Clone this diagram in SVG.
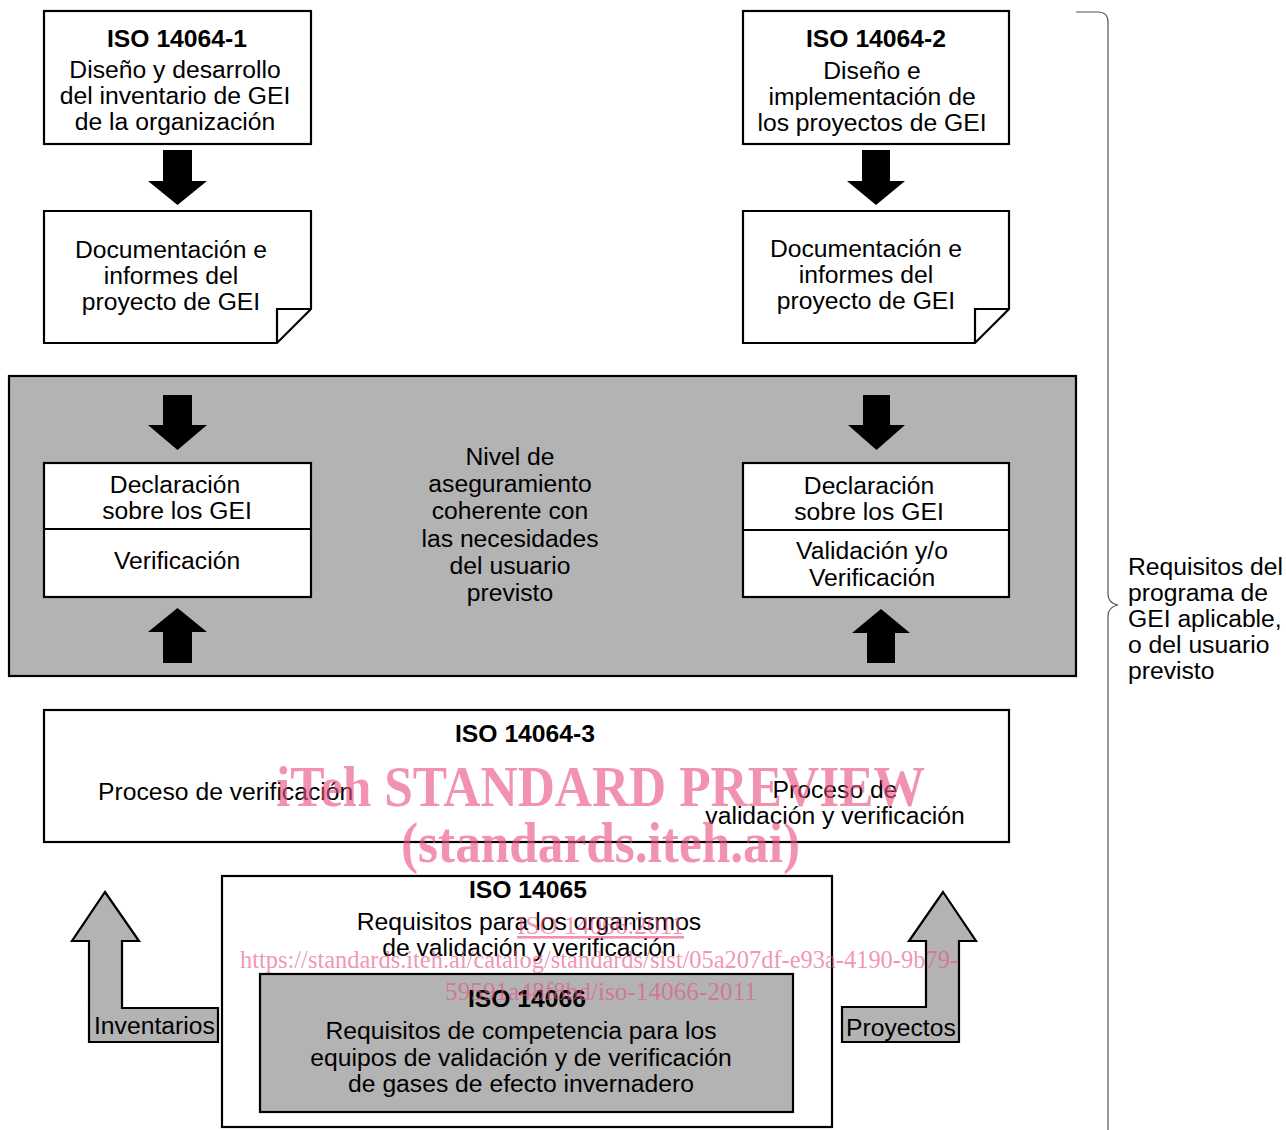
<svg xmlns="http://www.w3.org/2000/svg" width="1286" height="1130" viewBox="0 0 1286 1130">
<style>
  .box { fill: #ffffff; stroke: #000000; stroke-width: 2.2; }
  .grey { fill: #b3b3b3; stroke: #000000; stroke-width: 2.2; }
  .ln { fill: none; stroke: #000000; stroke-width: 2.2; }
  .t { font-family: "Liberation Sans", Arial, sans-serif; font-size: 24.7px; fill: #000000; }
  .c { text-anchor: middle; }
  .b { font-weight: bold; }
  .arr { fill: #000000; stroke: none; }
  .garr { fill: #b3b3b3; stroke: #000000; stroke-width: 2.2; }
  .brace { fill: none; stroke: #555555; stroke-width: 1.2; }
  .wm { font-family: "Liberation Serif", "Times New Roman", serif; fill: #e8507f; fill-opacity: 0.62; }
</style>
<rect width="1286" height="1130" fill="#ffffff"/>

<g id="assurance-area">
  <rect class="grey" x="9" y="376" width="1067" height="300"/>
  <text class="t c" x="510" y="465">Nivel de</text>
  <text class="t c" x="510" y="492">aseguramiento</text>
  <text class="t c" x="510" y="519">coherente con</text>
  <text class="t c" x="510" y="547">las necesidades</text>
  <text class="t c" x="510" y="574">del usuario</text>
  <text class="t c" x="510" y="601">previsto</text>
</g>

<g id="iso14064-1">
  <rect class="box" x="44" y="11" width="267" height="133"/>
  <text class="t c b" x="177" y="47">ISO 14064-1</text>
  <text class="t c" x="175" y="78">Diseño y desarrollo</text>
  <text class="t c" x="175" y="104">del inventario de GEI</text>
  <text class="t c" x="175" y="130">de la organización</text>
</g>

<g id="iso14064-2">
  <rect class="box" x="743" y="11" width="266" height="133"/>
  <text class="t c b" x="876" y="47">ISO 14064-2</text>
  <text class="t c" x="872" y="79">Diseño e</text>
  <text class="t c" x="872" y="105">implementación de</text>
  <text class="t c" x="872" y="131">los proyectos de GEI</text>
</g>

<g id="doc-left">
  <path class="box" d="M44,211 H311 V309 L277,343 H44 Z"/>
  <path class="ln" d="M277,343 V309 H311"/>
  <text class="t c" x="171" y="258">Documentación e</text>
  <text class="t c" x="171" y="284">informes del</text>
  <text class="t c" x="171" y="310">proyecto de GEI</text>
</g>

<g id="doc-right">
  <path class="box" d="M743,211 H1009 V309 L975,343 H743 Z"/>
  <path class="ln" d="M975,343 V309 H1009"/>
  <text class="t c" x="866" y="257">Documentación e</text>
  <text class="t c" x="866" y="283">informes del</text>
  <text class="t c" x="866" y="309">proyecto de GEI</text>
</g>

<g id="decl-left">
  <rect class="box" x="44" y="463" width="267" height="134"/>
  <line class="ln" x1="44" y1="529" x2="311" y2="529"/>
  <text class="t c" x="175" y="493">Declaración</text>
  <text class="t c" x="177" y="519">sobre los GEI</text>
  <text class="t c" x="177" y="569">Verificación</text>
</g>

<g id="decl-right">
  <rect class="box" x="743" y="463" width="266" height="134"/>
  <line class="ln" x1="743" y1="530" x2="1009" y2="530"/>
  <text class="t c" x="869" y="494">Declaración</text>
  <text class="t c" x="869" y="520">sobre los GEI</text>
  <text class="t c" x="872" y="559">Validación y/o</text>
  <text class="t c" x="872" y="586">Verificación</text>
</g>

<g id="iso14064-3">
  <rect class="box" x="44" y="710" width="965" height="132"/>
  <text class="t c b" x="525" y="742">ISO 14064-3</text>
  <text class="t" x="98" y="800">Proceso de verificación</text>
  <text class="t c" x="835" y="798">Proceso de</text>
  <text class="t c" x="835" y="824">validación y verificación</text>
</g>

<g id="iso14065">
  <rect class="box" x="222" y="876" width="610" height="251"/>
  <text class="t c b" x="528" y="898">ISO 14065</text>
  <text class="t c" x="529" y="930">Requisitos para los organismos</text>
  <text class="t c" x="529" y="956">de validación y verificación</text>
</g>

<g id="iso14066">
  <rect class="grey" x="260" y="974" width="533" height="138"/>
  <text class="t c b" x="527" y="1007">ISO 14066</text>
  <text class="t c" x="521" y="1039">Requisitos de competencia para los</text>
  <text class="t c" x="521" y="1066">equipos de validación y de verificación</text>
  <text class="t c" x="521" y="1092">de gases de efecto invernadero</text>
</g>

<g id="inventarios">
  <path class="garr" d="M105,892 L139,941 H122 V1008 H218 V1042 H89 V941 H72 Z"/>
  <text class="t" x="94" y="1034">Inventarios</text>
</g>

<g id="proyectos">
  <path class="garr" d="M943,892 L976,941 H959 V1042 H842 V1007 H926 V941 H909 Z"/>
  <text class="t" x="846" y="1036">Proyectos</text>
</g>

<g id="program-requirements">
  <path class="brace" d="M1076,12 H1098 Q1108,12 1108,22 V594 Q1108,603 1118,605 Q1108,607 1108,616 V1130"/>
  <text class="t" x="1128" y="575">Requisitos del</text>
  <text class="t" x="1128" y="601">programa de</text>
  <text class="t" x="1128" y="627">GEI aplicable,</text>
  <text class="t" x="1128" y="653">o del usuario</text>
  <text class="t" x="1128" y="679">previsto</text>
</g>

<g id="connectors">
  <polygon class="arr" points="163,150 192,150 192,181 207,181 177.5,205 148,181 163,181"/>
  <polygon class="arr" points="862,150 890,150 890,181 905,181 876,205 847,181 862,181"/>
  <polygon class="arr" points="163,395 192,395 192,425 207,425 177.5,450 148,425 163,425"/>
  <polygon class="arr" points="863,395 890,395 890,425 905,425 876.5,450 848,425 863,425"/>
  <polygon class="arr" points="177.5,608 207,632 192,632 192,663 163,663 163,632 148,632"/>
  <polygon class="arr" points="881,609 910,633 895,633 895,663 867,663 867,633 852,633"/>
</g>

<g id="watermark">
  <text class="wm" x="276" y="806" font-size="56" font-weight="bold" textLength="649" lengthAdjust="spacingAndGlyphs">iTeh STANDARD PREVIEW</text>
  <text class="wm" x="401" y="862" font-size="56" font-weight="bold" textLength="399" lengthAdjust="spacingAndGlyphs">(standards.iteh.ai)</text>
  <text class="wm" x="517" y="934" font-size="26" textLength="167" lengthAdjust="spacingAndGlyphs" text-decoration="underline">ISO 14066:2011</text>
  <text class="wm" x="240" y="968" font-size="26" textLength="718" lengthAdjust="spacingAndGlyphs">https://standards.iteh.ai/catalog/standards/sist/05a207df-e93a-4190-9b79-</text>
  <text class="wm" x="445" y="1000" font-size="26" textLength="312" lengthAdjust="spacingAndGlyphs">59591a48f8bd/iso-14066-2011</text>
</g>
</svg>
